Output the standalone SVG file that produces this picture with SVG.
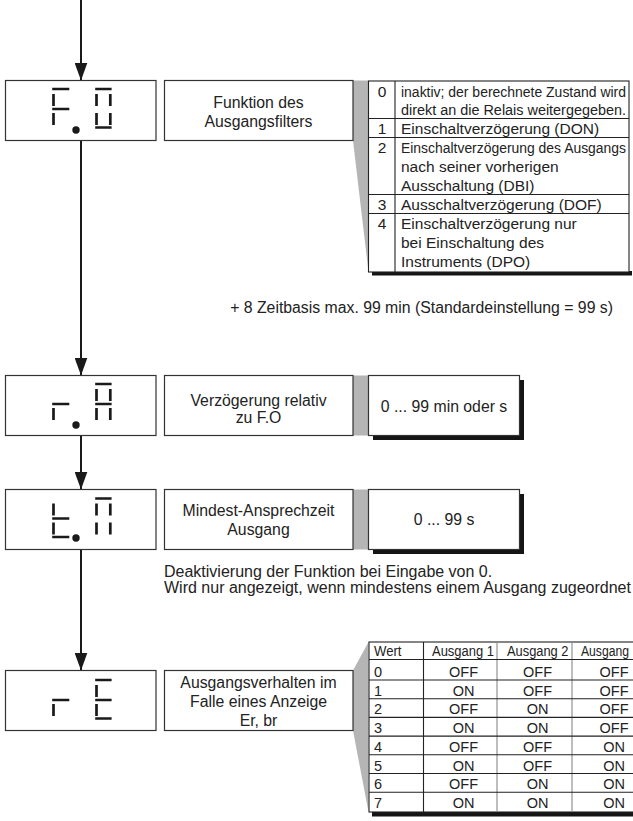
<svg xmlns="http://www.w3.org/2000/svg" width="633" height="821" viewBox="0 0 633 821">
  <defs>
    <style>
      text { font-family: "Liberation Sans", Arial, sans-serif; fill: #222; }
      .t { font-size: 15.8px; }
      .n { font-size: 16px; }
      .c { text-anchor: middle; }
      .tb { font-size: 15.5px; }
      .tbc { font-size: 14px; }
      .hd { font-size: 14px; }
      .cell { font-size: 14.5px; }
      .box { fill: #fff; stroke: #333; stroke-width: 1.2; }
      .shadow { fill: #151515; }
      .grey { fill: #b5b5b5; }
      .seg { fill: none; stroke: #1a1a1a; stroke-width: 2.7; stroke-linecap: butt; }
      .rule { stroke: #222; stroke-width: 1.1; fill: none; }
      .rule-lt { stroke: #888; stroke-width: 1.1; fill: none; }
      .flow { stroke: #1a1a1a; stroke-width: 2; fill: none; }
    </style>
    <marker id="arrow" markerUnits="userSpaceOnUse" markerWidth="18" markerHeight="13" refX="18" refY="6.5" orient="auto">
      <path d="M0,0 L18,6.5 L0,13 z" fill="#1a1a1a"/>
    </marker>
  </defs>

  <rect width="633" height="821" fill="#fff"/>

  <!-- flow connectors -->
  <g id="connectors">
    <line class="flow" x1="81" y1="0" x2="81" y2="80.5" marker-end="url(#arrow)"/>
    <line class="flow" x1="81" y1="140.5" x2="81" y2="375.5" marker-end="url(#arrow)"/>
    <line class="flow" x1="81" y1="435.5" x2="81" y2="489.5" marker-end="url(#arrow)"/>
    <line class="flow" x1="81" y1="549.5" x2="81" y2="670.5" marker-end="url(#arrow)"/>
  </g>

  <!-- F.O : output filter function -->
  <g id="node-fo">
    <rect class="box" x="5.5" y="80.5" width="150.5" height="60"/>
    <path class="seg" d="M52.2 89H69.3 M53.5 94V106 M52.2 109H69.3 M53.5 113V125"/>
    <path class="seg" d="M95.2 89H111.6 M96.5 94V106 M110.3 94V106 M96.5 113V125 M110.3 113V125 M95.2 127.5H111.6"/>
    <circle cx="76" cy="130" r="3.7" fill="#1a1a1a"/>
  </g>
  <g id="label-fo">
    <polygon class="grey" points="353,80.5 368.5,80.5 368.5,272 353,140.5"/>
    <rect class="box" x="164.5" y="80.5" width="188.5" height="60"/>
    <text class="t c" x="258.5" y="108">Funktion des</text>
    <text class="t c" x="258.5" y="126.5">Ausgangsfilters</text>
  </g>
  <g id="table-fo">
    <rect x="372" y="271" width="260" height="4.5" class="shadow"/>
    <rect x="368.5" y="81" width="260.5" height="191" fill="#fff" stroke="#222" stroke-width="1.1"/>
    <line class="rule" x1="395" y1="81" x2="395" y2="272"/>
    <line class="rule" x1="368.5" y1="118.5" x2="629" y2="118.5"/>
    <line class="rule" x1="368.5" y1="137.5" x2="629" y2="137.5"/>
    <line class="rule" x1="368.5" y1="194.5" x2="629" y2="194.5"/>
    <line class="rule" x1="368.5" y1="213.5" x2="629" y2="213.5"/>
    <text class="tb c" x="382" y="97">0</text>
    <text class="tbc" x="401" y="97" textLength="225" lengthAdjust="spacingAndGlyphs">inaktiv; der berechnete Zustand wird</text>
    <text class="tbc" x="401" y="115" textLength="225" lengthAdjust="spacingAndGlyphs">direkt an die Relais weitergegeben.</text>
    <text class="tb c" x="382" y="134">1</text>
    <text class="tb" x="401" y="134">Einschaltverzögerung (DON)</text>
    <text class="tb c" x="382" y="153">2</text>
    <text class="tbc" x="401" y="153" textLength="225" lengthAdjust="spacingAndGlyphs">Einschaltverzögerung des Ausgangs</text>
    <text class="tb" x="401" y="172">nach seiner vorherigen</text>
    <text class="tb" x="401" y="191">Ausschaltung (DBI)</text>
    <text class="tb c" x="382" y="210">3</text>
    <text class="tb" x="401" y="210">Ausschaltverzögerung (DOF)</text>
    <text class="tb c" x="382" y="229">4</text>
    <text class="tb" x="401" y="229">Einschaltverzögerung nur</text>
    <text class="tb" x="401" y="248">bei Einschaltung des</text>
    <text class="tb" x="401" y="267">Instruments (DPO)</text>
  </g>
  <text id="note-timebase" class="t" x="613" y="313" text-anchor="end">+ 8 Zeitbasis max. 99 min (Standardeinstellung = 99 s)</text>

  <!-- r.A : relative delay -->
  <g id="node-ra">
    <rect class="box" x="5.5" y="375.5" width="150.5" height="60"/>
    <path class="seg" d="M52.2 404H69.3 M53.5 408V420"/>
    <path class="seg" d="M95.2 384H111.6 M96.5 389V401 M110.3 389V401 M95.2 404H111.6 M96.5 408V420 M110.3 408V420"/>
    <circle cx="76" cy="425" r="3.7" fill="#1a1a1a"/>
  </g>
  <g id="label-ra">
    <rect class="grey" x="353" y="375.5" width="15.5" height="60"/>
    <rect class="box" x="164.5" y="375.5" width="188.5" height="60"/>
    <text class="t c" x="258.5" y="405.5">Verzögerung relativ</text>
    <text class="t c" x="258.5" y="423">zu F.O</text>
  </g>
  <g id="value-ra">
    <rect class="shadow" x="373" y="380" width="151" height="60"/>
    <rect class="box" x="368.5" y="375.5" width="151" height="60"/>
    <text class="t c" x="444" y="412">0 ... 99 min oder s</text>
  </g>

  <!-- t.n : minimum response time -->
  <g id="node-tn">
    <rect class="box" x="5.5" y="489.5" width="150.5" height="60"/>
    <path class="seg" d="M53.5 503.5V515.5 M52.2 518.5H69.3 M53.5 522.5V534.5 M52.2 537H69.3"/>
    <path class="seg" d="M95.2 498.5H111.6 M96.5 503.5V515.5 M110.3 503.5V515.5 M96.5 522.5V534.5 M110.3 522.5V534.5"/>
    <circle cx="76" cy="538" r="3.7" fill="#1a1a1a"/>
  </g>
  <g id="label-tn">
    <rect class="grey" x="353" y="489.5" width="15.5" height="60"/>
    <rect class="box" x="164.5" y="489.5" width="188.5" height="60"/>
    <text class="t c" x="258.5" y="515.5">Mindest-Ansprechzeit</text>
    <text class="t c" x="258.5" y="535">Ausgang</text>
  </g>
  <g id="value-tn">
    <rect class="shadow" x="373" y="494" width="151" height="60"/>
    <rect class="box" x="368.5" y="489.5" width="151" height="60"/>
    <text class="t c" x="444" y="525">0 ... 99 s</text>
  </g>
  <g id="note-tn">
    <text class="n" x="164" y="577">Deaktivierung der Funktion bei Eingabe von 0.</text>
    <text class="n" x="164" y="593">Wird nur angezeigt, wenn mindestens einem Ausgang zugeordnet</text>
  </g>

  <!-- rE : output behaviour on display error -->
  <g id="node-re">
    <rect class="box" x="5.5" y="670.5" width="150.5" height="60"/>
    <path class="seg" d="M52.2 700H69.3 M53.5 704V716"/>
    <path class="seg" d="M95.2 680H111.6 M96.5 685V697 M95.2 700H111.6 M96.5 704V716 M95.2 718.5H111.6"/>
  </g>
  <g id="label-re">
    <polygon class="grey" points="353,670.5 368.5,642 368.5,812 353,730.5"/>
    <rect class="box" x="164.5" y="670.5" width="188.5" height="60"/>
    <text class="t c" x="258.5" y="688">Ausgangsverhalten im</text>
    <text class="t c" x="258.5" y="707">Falle eines Anzeige</text>
    <text class="t c" x="258.5" y="726">Er, br</text>
  </g>
  <g id="table-re">
    <rect class="shadow" x="372" y="811.5" width="261" height="5"/>
    <rect x="369" y="642" width="270" height="170" fill="#fff" stroke="#222" stroke-width="1.1"/>
    <line class="rule" x1="423.5" y1="642" x2="423.5" y2="812"/>
    <line class="rule-lt" x1="497" y1="642" x2="497" y2="812"/>
    <line class="rule-lt" x1="572" y1="642" x2="572" y2="812"/>
    <path class="rule" d="M369 659.5H633 M369 680H633 M369 698.7H633 M369 717.4H633 M369 736.1H633 M369 754.8H633 M369 773.5H633 M369 792.2H633"/>
    <text class="hd" x="374" y="656" textLength="27.5" lengthAdjust="spacingAndGlyphs">Wert</text>
    <text class="hd" x="432" y="656" textLength="62" lengthAdjust="spacingAndGlyphs">Ausgang 1</text>
    <text class="hd" x="507" y="656" textLength="61.5" lengthAdjust="spacingAndGlyphs">Ausgang 2</text>
    <text class="hd" x="581" y="656" textLength="48" lengthAdjust="spacingAndGlyphs">Ausgang</text>
    <g class="cell">
      <text x="374" y="677">0</text><text class="c" x="463.5" y="677">OFF</text><text class="c" x="537.5" y="677">OFF</text><text class="c" x="614" y="677">OFF</text>
      <text x="374" y="695.7">1</text><text class="c" x="463.5" y="695.7">ON</text><text class="c" x="537.5" y="695.7">OFF</text><text class="c" x="614" y="695.7">OFF</text>
      <text x="374" y="714.4">2</text><text class="c" x="463.5" y="714.4">OFF</text><text class="c" x="537.5" y="714.4">ON</text><text class="c" x="614" y="714.4">OFF</text>
      <text x="374" y="733.1">3</text><text class="c" x="463.5" y="733.1">ON</text><text class="c" x="537.5" y="733.1">ON</text><text class="c" x="614" y="733.1">OFF</text>
      <text x="374" y="751.8">4</text><text class="c" x="463.5" y="751.8">OFF</text><text class="c" x="537.5" y="751.8">OFF</text><text class="c" x="614" y="751.8">ON</text>
      <text x="374" y="770.5">5</text><text class="c" x="463.5" y="770.5">ON</text><text class="c" x="537.5" y="770.5">OFF</text><text class="c" x="614" y="770.5">ON</text>
      <text x="374" y="789.2">6</text><text class="c" x="463.5" y="789.2">OFF</text><text class="c" x="537.5" y="789.2">ON</text><text class="c" x="614" y="789.2">ON</text>
      <text x="374" y="807.9">7</text><text class="c" x="463.5" y="807.9">ON</text><text class="c" x="537.5" y="807.9">ON</text><text class="c" x="614" y="807.9">ON</text>
    </g>
  </g>
</svg>
